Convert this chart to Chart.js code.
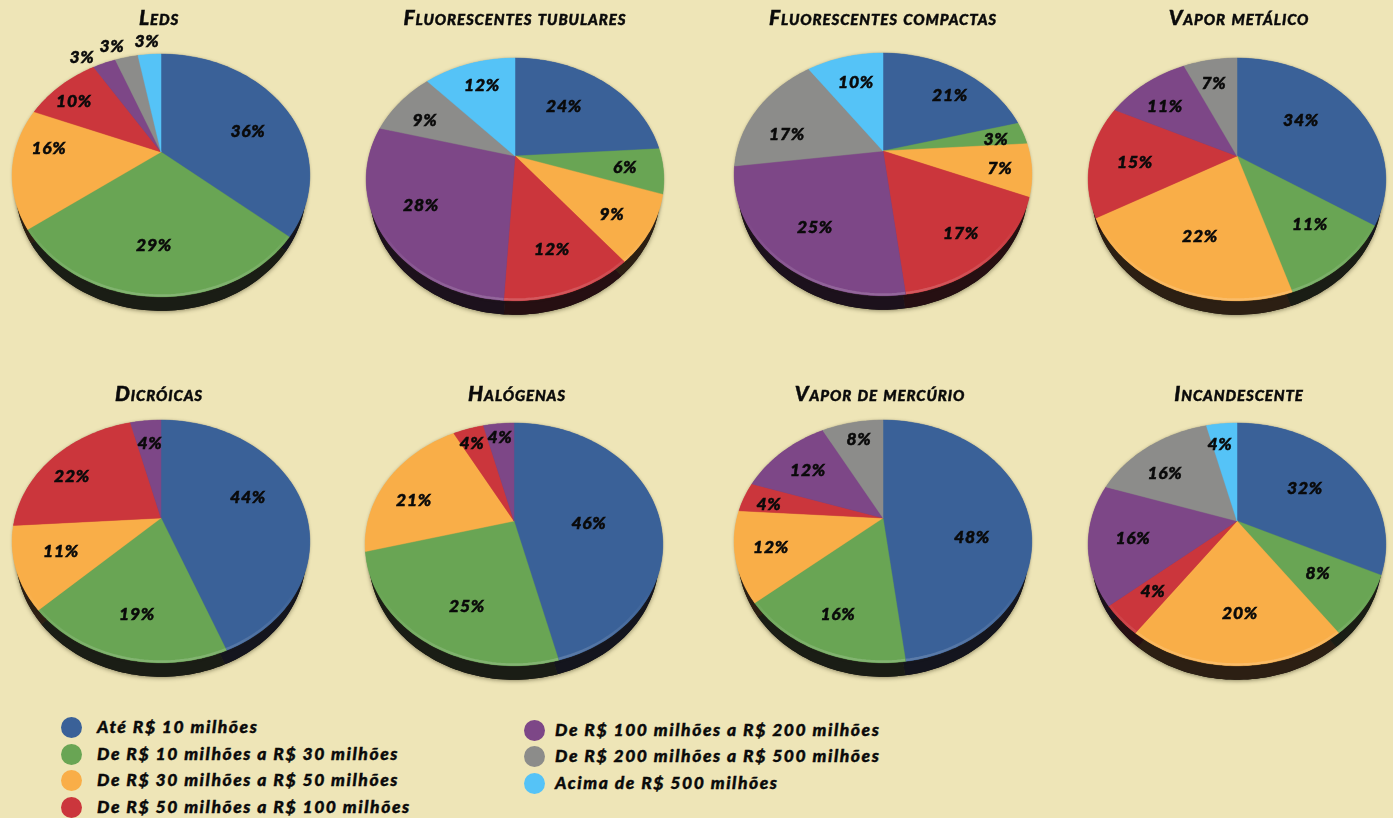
<!DOCTYPE html>
<html><head><meta charset="utf-8">
<style>
html,body{margin:0;padding:0;width:1393px;height:818px;overflow:hidden;background:#EEE5B7;font-family:Lato,sans-serif;color:#0a0a0a}
canvas{position:absolute;filter:blur(.4px)}
.t{position:absolute;transform:translateX(-50%);white-space:nowrap;font:italic 900 21px/22px Lato;font-variant:small-caps;letter-spacing:.9px;-webkit-text-stroke:.45px #0a0a0a;z-index:3}
.l{position:absolute;white-space:nowrap;font:italic 900 17.5px/20px Lato;letter-spacing:1.55px;-webkit-text-stroke:.4px #0a0a0a;z-index:3}
.d{position:absolute;width:21px;height:21px;border-radius:50%}
</style>
<script src="https://cdn.jsdelivr.net/npm/chart.js@4"></script>
</head><body>
<script>
const categories=["Até R$ 10 milhões","De R$ 10 milhões a R$ 30 milhões","De R$ 30 milhões a R$ 50 milhões","De R$ 50 milhões a R$ 100 milhões","De R$ 100 milhões a R$ 200 milhões","De R$ 200 milhões a R$ 500 milhões","Acima de R$ 500 milhões"];
const colors=["#3A6198","#69A554","#F9AE48","#CB363C","#7D4787","#8C8C8A","#55C3F7"];
const titles=["Leds","Fluorescentes tubulares","Fluorescentes compactas","Vapor metálico","Dicróicas","Halógenas","Vapor de mercúrio","Incandescente"];
const leds=[36,29,16,10,3,3,3];
const tubulares=[24,6,9,12,28,9,12];
const compactas=[21,3,7,17,25,17,10];
const vaporMetalico=[34,11,22,15,11,7,0];
const dicroicas=[44,19,11,22,4,0,0];
const halogenas=[46,25,21,4,4,0,0];
const vaporMercurio=[48,16,12,4,12,8,0];
const incandescente=[32,8,20,4,16,16,4];
const series=[leds,tubulares,compactas,vaporMetalico,dicroicas,halogenas,vaporMercurio,incandescente];

// layout: pie hub position, title centre, label offsets from the hub
const hubs=[[161,152],[515,156],[883,151],[1237,156],[161,518],[514,521],[883,518],[1237,521]];
const titlePos=[[159,6],[515,6],[883,6],[1239,6],[159,382],[517,382],[880,382],[1239,382]];
const labelOffsets=[
 [[87,-21],[-7,93],[-112,-4],[-87,-51],[-79,-95],[-49,-106],[-14,-111]],
 [[49,-50],[110,11],[97,58],[37,93],[-94,49],[-90,-36],[-33,-71]],
 [[67,-56],[113,-12],[117,17],[78,82],[-68,76],[-96,-17],[-27,-69]],
 [[64,-36],[73,68],[-37,80],[-102,6],[-72,-50],[-23,-73]],
 [[87,-21],[-24,96],[-100,33],[-89,-42],[-11,-75]],
 [[75,2],[-47,85],[-100,-21],[-42,-78],[-14,-84]],
 [[89,19],[-45,96],[-112,29],[-114,-14],[-75,-48],[-24,-79]],
 [[68,-33],[81,52],[3,92],[-84,70],[-104,17],[-72,-48],[-17,-77]]
];
const SIZE=340, PAD=24, K=0.193, SQUASH=0.8, DEPTH=14, SHRINK=0.975;

function project(el,theta,rho){ // theta clockwise from the top
  const u=Math.sin(theta)*rho, v=-Math.cos(theta)*rho, w=1-K*v, r=el.outerRadius;
  return [el.x+r*u/w, el.y+r*SQUASH*v/w];
}
function wedge(ctx,el,dy,xs){
  const a=el.startAngle+Math.PI/2,b=el.endAngle+Math.PI/2,n=Math.max(2,Math.ceil((b-a)*40));
  ctx.beginPath();ctx.moveTo(el.x,el.y+dy);
  for(let i=0;i<=n;i++){const p=project(el,a+(b-a)*i/n,1);ctx.lineTo(el.x+(p[0]-el.x)*xs,p[1]+dy);}
  ctx.closePath();
}
function rim(ctx,el){
  const a=el.startAngle+Math.PI/2,b=el.endAngle+Math.PI/2,n=Math.max(2,Math.ceil((b-a)*40));
  ctx.beginPath();
  for(let i=0;i<=n;i++){const p=project(el,a+(b-a)*i/n,1);i?ctx.lineTo(p[0],p[1]):ctx.moveTo(p[0],p[1]);}
}
function mix(hex,f){const n=parseInt(hex.slice(1),16);return `rgb(${(n>>16)*f+12},${((n>>8)&255)*f+8},${(n&255)*f+10})`;}
const perspectivePie={
  id:'perspectivePie',
  beforeDatasetsDraw(chart){
    const ctx=chart.ctx,els=chart.getDatasetMeta(0).data;
    const cols=chart.data.datasets[0].backgroundColor;
    ctx.save();
    ctx.shadowColor='rgba(40,35,10,.5)';ctx.shadowBlur=4;ctx.shadowOffsetY=1;
    els.forEach((el,i)=>{if(el.circumference>0){wedge(ctx,el,DEPTH,SHRINK);ctx.fillStyle='#14110f';ctx.fill();}});
    ctx.shadowColor='transparent';ctx.shadowBlur=0;ctx.shadowOffsetY=0;
    els.forEach((el,i)=>{if(el.circumference>0){wedge(ctx,el,DEPTH,SHRINK);ctx.fillStyle=mix(cols[i],.13);ctx.fill();}});
    ctx.shadowColor='rgba(60,55,30,.35)';ctx.shadowBlur=3;
    els.forEach((el,i)=>{if(el.circumference>0){wedge(ctx,el,0,1);ctx.fillStyle=cols[i];ctx.fill();}});
    ctx.shadowColor='transparent';ctx.shadowBlur=0;
    els.forEach((el,i)=>{
      if(el.circumference<=0)return;
      wedge(ctx,el,0,1);ctx.fillStyle=cols[i];ctx.fill();ctx.strokeStyle=cols[i];ctx.lineWidth=.5;ctx.stroke();
      ctx.save();wedge(ctx,el,0,1);ctx.clip();
      const g=ctx.createLinearGradient(0,el.y+70,0,el.y+el.outerRadius);
      g.addColorStop(0,'rgba(255,255,255,0)');g.addColorStop(1,'rgba(255,255,255,.18)');
      rim(ctx,el);ctx.strokeStyle=g;ctx.lineWidth=5;ctx.stroke();
      ctx.restore();
    });
    ctx.restore();
    return false;
  },
  afterDraw(chart){
    const ctx=chart.ctx,meta=chart.getDatasetMeta(0),vals=chart.data.datasets[0].data,off=chart.options.plugins.perspectivePie.offsets;
    ctx.save();ctx.font='italic 900 17.5px Lato';ctx.letterSpacing='.7px';ctx.fillStyle='#0a0a0a';ctx.strokeStyle='#0a0a0a';ctx.lineWidth=.5;ctx.textAlign='center';ctx.textBaseline='middle';
    let j=0;
    vals.forEach((v,i)=>{if(!v)return;const el=meta.data[i],o=off[j++];ctx.fillText(v+'%',el.x+o[0],el.y+o[1]);ctx.strokeText(v+'%',el.x+o[0],el.y+o[1]);});
    ctx.restore();
  }
};
series.forEach((vals,i)=>{
  const c=document.createElement('canvas');
  c.width=SIZE;c.height=SIZE;
  c.style.cssText=`left:${hubs[i][0]-SIZE/2}px;top:${hubs[i][1]-SIZE/2}px;width:${SIZE}px;height:${SIZE}px`;
  document.body.appendChild(c);
  new Chart(c,{type:'pie',
    data:{labels:categories,datasets:[{data:vals,backgroundColor:colors,borderWidth:0}]},
    options:{responsive:false,animation:false,layout:{padding:PAD},events:[],
      plugins:{legend:{display:false},tooltip:{enabled:false},perspectivePie:{offsets:labelOffsets[i]}}},
    plugins:[perspectivePie]});
  const t=document.createElement('div');t.className='t';t.textContent=titles[i];
  t.style.left=titlePos[i][0]+'px';t.style.top=titlePos[i][1]+'px';document.body.appendChild(t);
});
// legend
const legendRows=[[71,97,727],[71,97,754],[71,97,780],[71,97,807],[534,555,730],[534,555,756],[534,555,783]];
categories.forEach((name,i)=>{
  const [cx,tx,y]=legendRows[i];
  const d=document.createElement('div');d.className='d';d.style.cssText=`left:${cx-10.5}px;top:${y-10.5}px;background:${colors[i]}`;document.body.appendChild(d);
  const l=document.createElement('div');l.className='l';l.textContent=name;l.style.left=tx+'px';l.style.top=(y-10)+'px';document.body.appendChild(l);
});
</script>
</body></html>
